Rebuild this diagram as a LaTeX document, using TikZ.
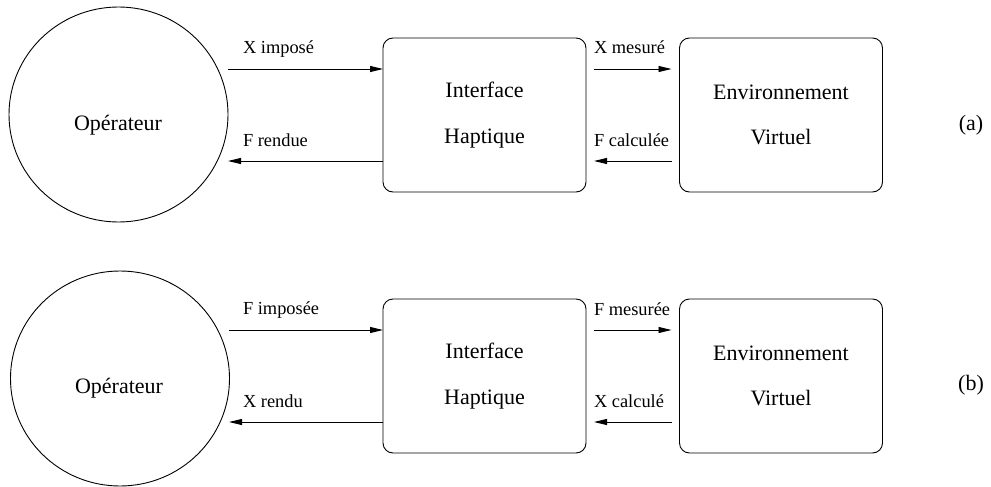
\documentclass[tikz,border=0pt]{standalone}
\usepackage{fontspec}
\setmainfont{Liberation Serif}
\usetikzlibrary{arrows.meta,shapes.geometric}
\begin{document}
\begin{tikzpicture}[x=1pt,y=-1pt,
  every node/.style={inner sep=0pt,outer sep=0pt},
  actor/.style={draw,line width=0.9pt,ellipse,minimum width=219pt,minimum height=215pt},
  block/.style={draw,line width=0.9pt,rounded corners=10pt,minimum width=203pt,minimum height=154pt,
    align=center,font=\fontsize{22}{26}\selectfont},
  bigtxt/.style={font=\fontsize{22}{26}\selectfont},
  sig/.style={font=\fontsize{18.4}{22}\selectfont,anchor=base west},
  flow/.style={line width=0.9pt,-{Triangle[length=13pt,width=6pt]}}]
\useasboundingbox (0,0) rectangle (991,487);

% ---------- (a) ----------
\node[actor] (opA) at (118.5,114.5) {};
\node[bigtxt,anchor=base] (opAt) at (118,130) {Opérateur};
\node[block] (ihA) at (484.5,115) {Interface\\[19.5pt]Haptique};
\node[block] (evA) at (781,115) {Environnement\\[19.5pt]Virtuel};
\node[bigtxt] (labA) at (971,125) {(a)};

\coordinate (a1) at (228,69);
\coordinate (a2) at (228,161);
\draw[flow] (a1) -- (ihA.west |- a1);
\draw[flow] (ihA.west |- a2) -- (a2);
\draw[flow,shorten <=8pt,shorten >=8pt] (ihA.east |- a1) -- (evA.west |- a1);
\draw[flow,shorten <=8pt,shorten >=8pt] (evA.west |- a2) -- (ihA.east |- a2);

\node[sig] (sA1) at (243,54) {X imposé};
\node[sig] (sA2) at (243,146) {F rendue};
\node[sig] (sA3) at (594,54) {X mesuré};
\node[sig] (sA4) at (594,146) {F calculée};

% ---------- (b) ----------
\node[actor] (opB) at (120,378.5) {};
\node[bigtxt,anchor=base] (opBt) at (119,393) {Opérateur};
\node[block] (ihB) at (484.5,376) {Interface\\[19.5pt]Haptique};
\node[block] (evB) at (781,376) {Environnement\\[19.5pt]Virtuel};
\node[bigtxt] (labB) at (971,385) {(b)};

\coordinate (b1) at (229,330);
\coordinate (b2) at (229,422);
\draw[flow] (b1) -- (ihB.west |- b1);
\draw[flow] (ihB.west |- b2) -- (b2);
\draw[flow,shorten <=8pt,shorten >=8pt] (ihB.east |- b1) -- (evB.west |- b1);
\draw[flow,shorten <=8pt,shorten >=8pt] (evB.west |- b2) -- (ihB.east |- b2);

\node[sig] (sB1) at (243,314) {F imposée};
\node[sig] (sB2) at (243,407) {X rendu};
\node[sig] (sB3) at (594,315) {F mesurée};
\node[sig] (sB4) at (594,407) {X calculé};
\end{tikzpicture}
\end{document}
